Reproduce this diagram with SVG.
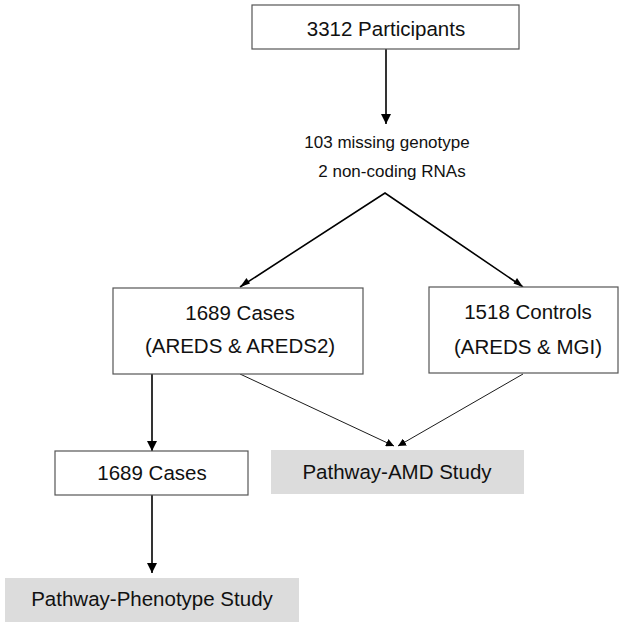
<svg xmlns="http://www.w3.org/2000/svg" width="624" height="627" viewBox="0 0 624 627">
<defs>
<style>
.box{fill:#fff;stroke:#555;stroke-width:1.2}
.study{fill:#dcdcdc;stroke:none}
.t{font-family:"Liberation Sans",Arial,Helvetica,sans-serif;font-size:20.5px;fill:#111;text-anchor:middle}
.s{font-family:"Liberation Sans",Arial,Helvetica,sans-serif;font-size:17px;fill:#111;text-anchor:middle}
.c{stroke:#000;fill:none}
.thick{stroke-width:1.6}
.thin{stroke-width:0.9}
</style>
<marker id="ah" viewBox="0 0 10 10" refX="10" refY="5" markerWidth="10" markerHeight="10" markerUnits="userSpaceOnUse" orient="auto">
<path d="M0,0 L10,5 L0,10 z" fill="#000"/>
</marker>
<marker id="ahs" viewBox="0 0 10 10" refX="10" refY="5" markerWidth="8" markerHeight="8" markerUnits="userSpaceOnUse" orient="auto">
<path d="M0,0 L10,5 L0,10 z" fill="#000"/>
</marker>
</defs>
<g id="connectors">
<line class="c thick" x1="386" y1="49" x2="386" y2="124" marker-end="url(#ah)"/>
<polyline class="c thick" points="240,287 385,193 523,287"/>
<path d="M240,287 L246.5,278 L250,283.5 z" fill="#000"/>
<path d="M523,287 L513.5,283.5 L517,278 z" fill="#000"/>
<line class="c thick" x1="152" y1="374" x2="152" y2="451" marker-end="url(#ah)"/>
<line class="c thick" x1="152" y1="495" x2="152" y2="573" marker-end="url(#ah)"/>
<line class="c thin" x1="240" y1="374" x2="394" y2="446" marker-end="url(#ahs)"/>
<line class="c thin" x1="523" y1="374" x2="398" y2="446" marker-end="url(#ahs)"/>
</g>
<g id="participants">
<rect class="box" x="252" y="5" width="267" height="44"/>
<text class="t" x="386" y="36">3312 Participants</text>
</g>
<g id="exclusions">
<text class="s" x="387" y="148">103 missing genotype</text>
<text class="s" x="392" y="177">2 non-coding RNAs</text>
</g>
<g id="cases">
<rect class="box" x="113" y="288" width="250" height="86"/>
<text class="t" x="240" y="320">1689 Cases</text>
<text class="t" x="240" y="353">(AREDS &amp; AREDS2)</text>
</g>
<g id="controls">
<rect class="box" x="429" y="287" width="189" height="86"/>
<text class="t" x="528" y="319">1518 Controls</text>
<text class="t" x="528" y="354">(AREDS &amp; MGI)</text>
</g>
<g id="cases2">
<rect class="box" x="55" y="451" width="193" height="44"/>
<text class="t" x="152" y="480">1689 Cases</text>
</g>
<g id="amd">
<rect class="study" x="271" y="450" width="253" height="44"/>
<text class="t" x="397" y="479">Pathway-AMD Study</text>
</g>
<g id="phenotype">
<rect class="study" x="5" y="578" width="294" height="44"/>
<text class="t" x="152" y="606">Pathway-Phenotype Study</text>
</g>
</svg>
